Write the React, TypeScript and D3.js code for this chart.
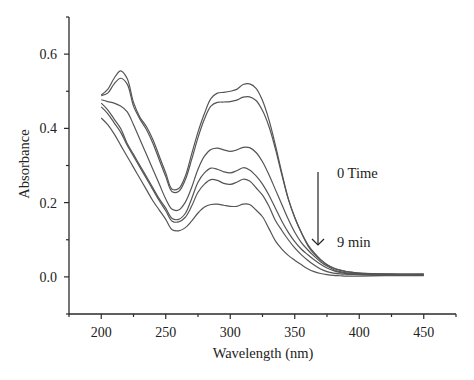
import React from "react";
import * as d3 from "d3";

const wavelengths = [200,205,210,215,220,225,230,235,240,245,250,255,260,265,270,275,280,285,290,295,300,305,310,315,320,325,330,335,340,345,350,355,360,365,370,375,380,385,390,400,420,450];

const t0 = [0.49,0.505,0.535,0.555,0.535,0.47,0.43,0.405,0.37,0.325,0.28,0.236,0.238,0.27,0.33,0.39,0.44,0.48,0.495,0.497,0.5,0.505,0.518,0.52,0.508,0.475,0.423,0.355,0.28,0.21,0.16,0.12,0.085,0.062,0.045,0.032,0.024,0.018,0.014,0.01,0.008,0.008];
const t1 = [0.488,0.495,0.52,0.535,0.52,0.46,0.425,0.397,0.36,0.315,0.27,0.229,0.23,0.26,0.315,0.375,0.425,0.46,0.47,0.471,0.472,0.476,0.484,0.485,0.475,0.448,0.405,0.345,0.275,0.21,0.16,0.12,0.088,0.065,0.047,0.033,0.024,0.018,0.014,0.01,0.008,0.007];
const t2 = [0.477,0.472,0.468,0.46,0.445,0.41,0.37,0.33,0.29,0.25,0.21,0.182,0.18,0.2,0.24,0.29,0.325,0.343,0.347,0.342,0.338,0.342,0.349,0.348,0.335,0.31,0.275,0.235,0.195,0.155,0.12,0.093,0.073,0.056,0.041,0.029,0.02,0.014,0.011,0.008,0.006,0.006];
const t3 = [0.468,0.45,0.425,0.4,0.36,0.33,0.3,0.27,0.24,0.21,0.185,0.157,0.155,0.17,0.21,0.255,0.28,0.293,0.29,0.283,0.28,0.286,0.294,0.288,0.272,0.25,0.22,0.185,0.15,0.12,0.095,0.075,0.06,0.046,0.034,0.024,0.017,0.012,0.009,0.007,0.005,0.005];
const t4 = [0.458,0.44,0.415,0.39,0.355,0.325,0.295,0.265,0.235,0.205,0.178,0.15,0.148,0.16,0.19,0.228,0.25,0.262,0.26,0.252,0.249,0.255,0.263,0.258,0.24,0.22,0.19,0.152,0.125,0.1,0.078,0.06,0.045,0.032,0.021,0.014,0.01,0.008,0.007,0.006,0.004,0.004];
const t5 = [0.428,0.41,0.385,0.355,0.325,0.295,0.265,0.235,0.205,0.18,0.155,0.127,0.124,0.132,0.15,0.172,0.188,0.195,0.196,0.193,0.19,0.19,0.196,0.195,0.18,0.162,0.13,0.097,0.075,0.058,0.045,0.033,0.022,0.014,0.009,0.006,0.004,0.003,0.002,0.002,0.003,0.003];

const seriesList = [t0, t1, t2, t3, t4, t5];

const xMajor = [200, 250, 300, 350, 400, 450];
const xMinor = [175, 225, 275, 325, 375, 425, 475];
const yMajor = [0.0, 0.2, 0.4, 0.6];
const yMinor = [-0.1, 0.1, 0.3, 0.5, 0.7];

const xLabel = "Wavelength (nm)";
const yLabel = "Absorbance";
const startLabel = "0 Time";
const endLabel = "9 min";

export default function App() {
  const W = 474, H = 380;
  const left = 69, right = 456, top = 17, bottom = 314;
  const x = d3.scaleLinear().domain([175, 475]).range([left, right]);
  const y = d3.scaleLinear().domain([-0.1, 0.7]).range([bottom, top]);
  const line = d3
    .line<number>()
    .x((_, i) => x(wavelengths[i]))
    .y((d) => y(d))
    .curve(d3.curveCatmullRom.alpha(0.5));

  const font = "'Liberation Serif', 'Times New Roman', serif";
  const axisColor = "#2a2a2a";
  const textColor = "#222";

  return (
    <svg
      width={W}
      height={H}
      style={{ position: "absolute", left: 0, top: 0, background: "#fff" }}
      fontFamily={font}
    >
      {seriesList.map((s, i) => (
        <path key={i} d={line(s) || ""} fill="none" stroke="#555" strokeWidth={1.2} />
      ))}

      <line x1={left} x2={left} y1={top} y2={bottom} stroke={axisColor} strokeWidth={1.3} />
      <line x1={left} x2={right} y1={bottom} y2={bottom} stroke={axisColor} strokeWidth={1.3} />

      {yMajor.map((v) => (
        <g key={"ym" + v}>
          <line x1={left - 5} x2={left} y1={y(v)} y2={y(v)} stroke={axisColor} strokeWidth={1.2} />
          <text x={57} y={y(v)} dy="0.35em" textAnchor="end" fontSize={14} fill={textColor}>
            {d3.format(".1f")(v)}
          </text>
        </g>
      ))}
      {yMinor.map((v) => (
        <line key={"yn" + v} x1={left - 3} x2={left} y1={y(v)} y2={y(v)} stroke={axisColor} strokeWidth={1.2} />
      ))}

      {xMajor.map((v) => (
        <g key={"xm" + v}>
          <line x1={x(v)} x2={x(v)} y1={bottom} y2={bottom + 5} stroke={axisColor} strokeWidth={1.2} />
          <text x={x(v)} y={337} textAnchor="middle" fontSize={14} fill={textColor}>
            {v}
          </text>
        </g>
      ))}
      {xMinor.map((v) => (
        <line key={"xn" + v} x1={x(v)} x2={x(v)} y1={bottom} y2={bottom + 3} stroke={axisColor} strokeWidth={1.2} />
      ))}

      <text x={263} y={358} textAnchor="middle" fontSize={14.5} fill={textColor}>
        {xLabel}
      </text>
      <text
        transform={`translate(29, 164) rotate(-90)`}
        textAnchor="middle"
        fontSize={14.5}
        fill={textColor}
      >
        {yLabel}
      </text>

      <line x1={318} x2={318} y1={172} y2={245} stroke="#222" strokeWidth={1.2} />
      <path d="M312,239 L318,245 L324,239" fill="none" stroke="#222" strokeWidth={1.2} />
      <text x={337} y={178} fontSize={14.5} fill={textColor}>{startLabel}</text>
      <text x={337} y={247} fontSize={14.5} fill={textColor}>{endLabel}</text>
    </svg>
  );
}
